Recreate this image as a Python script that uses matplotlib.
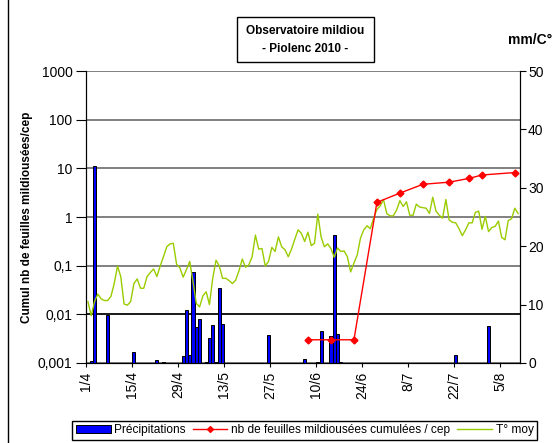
import matplotlib.pyplot as plt
import numpy as np
import pandas as pd
from matplotlib.lines import Line2D
from matplotlib.patches import Patch, Rectangle
from matplotlib.ticker import NullLocator

plt.rcParams['font.family'] = ['Liberation Sans', 'DejaVu Sans']

# saison du 1/4 au 10/8/2010
start = pd.Timestamp('2010-04-01')
n_days = 132

# température moyenne journalière (°C), un point par jour depuis le 1/4
temp = [10.5, 8.1, 10.5, 11.8, 11.0, 10.7, 10.7, 11.4, 13.6, 16.6,
        14.8, 10.1, 9.9, 10.5, 13.6, 14.4, 12.8, 12.8, 14.8, 15.5,
        16.1, 14.8, 16.6, 18.2, 19.9, 20.4, 20.5, 16.9, 16.3, 14.7,
        16.0, 17.4, 13.9, 10.2, 9.6, 11.5, 12.2, 10.0, 14.5, 17.6,
        16.6, 14.5, 14.5, 14.1, 13.6, 14.2, 15.8, 17.8, 16.4, 16.8,
        18.2, 21.9, 19.5, 19.6, 16.6, 17.4, 19.8, 19.1, 21.6, 19.9,
        19.4, 18.2, 19.5, 21.2, 22.8, 22.2, 20.8, 22.4, 20.1, 20.5,
        25.5, 21.6, 19.9, 20.4, 19.6, 18.1, 19.7, 19.1, 19.2, 18.2,
        15.6, 17.1, 18.5, 21.4, 22.8, 23.5, 23.0, 24.8, 26.3, 26.9,
        28.0, 25.6, 25.2, 25.2, 26.2, 27.8, 26.8, 27.6, 25.3, 25.3,
        27.2, 26.7, 26.6, 26.5, 25.6, 28.4, 26.0, 25.3, 24.8, 28.0,
        24.5, 24.1, 24.0, 23.0, 21.8, 22.8, 24.0, 24.0, 25.8, 26.0,
        22.9, 25.1, 22.5, 23.2, 23.4, 24.3, 21.5, 21.1, 24.4, 24.7,
        26.5, 25.6]

# précipitations (mm)
rain_dates = ['2/4', '3/4', '7/4', '15/4', '22/4', '24/4', '30/4', '1/5', '2/5',
              '3/5', '4/5', '5/5', '7/5', '8/5', '9/5', '10/5', '11/5', '12/5',
              '26/5', '6/6', '10/6', '11/6', '14/6', '15/6', '16/6', '17/6',
              '22/7', '1/8']
rain_mm = [0.3, 33.8, 8.2, 1.9, 0.45, 0.25, 1.2, 9.0, 1.4,
           15.5, 6.2, 7.5, 0.2, 4.2, 6.5, 0.2, 12.8, 6.7,
           4.8, 0.7, 0.2, 5.5, 4.6, 21.9, 5.0, 0.2,
           1.3, 6.3]

# cumul feuilles mildiousées / cep
leaf_dates = ['7/6', '14/6', '21/6', '28/6', '5/7', '12/7', '20/7', '26/7', '30/7', '9/8']
leaf_counts = [0.003, 0.003, 0.003, 2.0, 3.1, 4.7, 5.2, 6.2, 7.3, 8.2]

tick_dates = ['1/4', '15/4', '29/4', '13/5', '27/5', '10/6', '24/6', '8/7', '22/7', '5/8']
log_ticks = [0.001, 0.01, 0.1, 1, 10, 100, 1000]
log_labels = ['0,001', '0,01', '0,1', '1', '10', '100', '1000']
right_ticks = [0, 10, 20, 30, 40, 50]


def day(dm):
    d, m = dm.split('/')
    return (pd.Timestamp(2010, int(m), int(d)) - start).days


fig = plt.figure(figsize=(5.55, 4.43), dpi=100)
ax = fig.add_axes([0.1555, 0.1806, 0.781, 0.6591])

# axe gauche (log) : grille
ax.set_yscale('log')
ax.set_ylim(0.001, 1000)
ax.set_yticks(log_ticks)
ax.set_yticklabels(log_labels)
ax.yaxis.set_minor_locator(NullLocator())
ax.grid(axis='y', color='#808080', lw=1.4)
ax.axhline(0.01, color='black', lw=1.1)
ax.set_xlim(0, n_days)
ax.set_xticks([day(t) for t in tick_dates])
ax.set_xticklabels(tick_dates, rotation=90)
ax.tick_params(axis='y', direction='out', length=7, pad=3, labelsize=10)
ax.tick_params(axis='x', direction='out', length=3, pad=3, labelsize=10)
ax.spines['top'].set_visible(False)

# axe droit : précipitations et température
ax2 = ax.twinx()
ax2.set_ylim(0, 50)
ax2.set_yticks(right_ticks)
ax2.tick_params(axis='y', direction='out', length=4, pad=2, labelsize=10)
ax2.spines['top'].set_visible(False)
ax2.bar([day(d) + 0.5 for d in rain_dates], rain_mm, width=0.95,
        color='#0000FF', edgecolor='black', lw=0.7)
ax2.plot(np.arange(n_days) + 0.5, temp, color='#99CC00', lw=1)

# feuilles mildiousées au dessus
ax3 = ax.twinx()
ax3.set_yscale('log')
ax3.set_ylim(0.001, 1000)
ax3.axis('off')
ax3.plot([day(d) + 0.5 for d in leaf_dates], leaf_counts, color='red', lw=1,
         marker='D', ms=3.5)

# titre
fig.patches.append(Rectangle((237 / 555, 1 - 62 / 443), 137 / 555, 45 / 443,
                             transform=fig.transFigure, fill=True, facecolor='white',
                             edgecolor='black', lw=1))
fig.text(305.5 / 555, 1 - 40 / 443, 'Observatoire mildiou\n- Piolenc 2010 -',
         ha='center', va='center', fontsize=8.5, fontweight='bold', linespacing=1.7)
fig.text(552 / 555, 1 - 40 / 443, 'mm/C°', ha='right', va='center',
         fontsize=10, fontweight='bold')
fig.text(27 / 555, 1 - 217 / 443, 'Cumul nb de feuilles mildiousées/cep',
         rotation=90, ha='center', va='center', fontsize=8.5, fontweight='bold')

# bord gauche du graphique
fig.lines.append(Line2D([8 / 555, 8 / 555], [0, 1], transform=fig.transFigure,
                        color='black', lw=1))

handles = [Patch(facecolor='#0000FF', edgecolor='black', lw=0.7),
           Line2D([], [], color='red', lw=1, marker='D', ms=3),
           Line2D([], [], color='#99CC00', lw=1)]
labels = ['Précipitations', 'nb de feuilles mildiousées cumulées / cep', 'T° moy']
leg = fig.legend(handles, labels, loc='center', bbox_to_anchor=(0.549, 0.029),
                 ncol=3, fontsize=8.6, handlelength=2.9, handleheight=0.6,
                 columnspacing=0.6, handletextpad=0.3, borderpad=0.3,
                 fancybox=False, edgecolor='black', framealpha=1)
leg.get_frame().set_linewidth(1)

fig.savefig('out.png', dpi=100)
